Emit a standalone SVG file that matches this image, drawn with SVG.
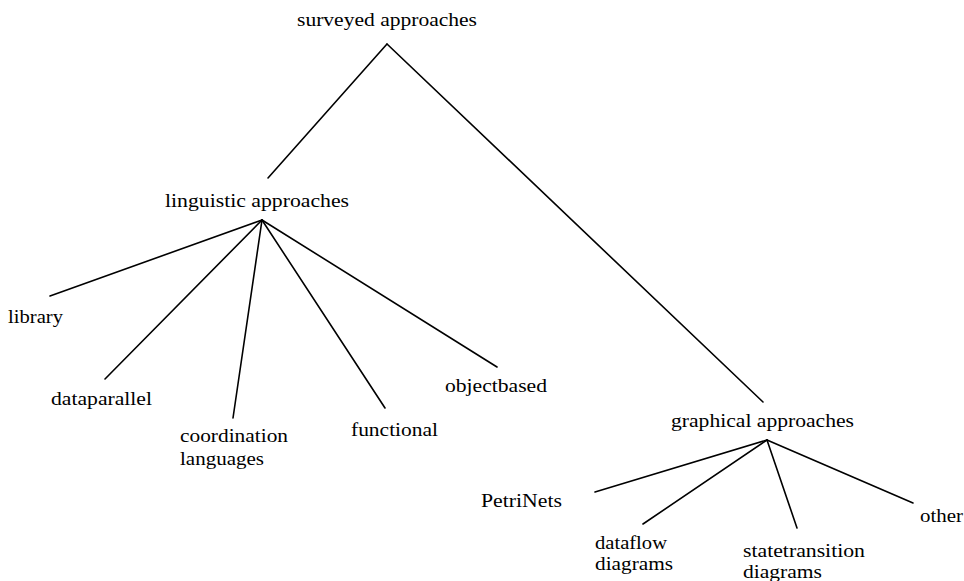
<svg xmlns="http://www.w3.org/2000/svg" width="964" height="581" viewBox="0 0 964 581">
<style>
text{font-family:"Liberation Serif","Times New Roman",serif;font-size:19.5px;fill:#000}
.c line{stroke:#000;stroke-width:1.6;stroke-linecap:round}
</style>
<rect width="964" height="581" fill="#fff"/>
<g class="c" id="connectors">
<line x1="387" y1="44" x2="268" y2="178"/>
<line x1="387" y1="44" x2="763" y2="402"/>
<line x1="262" y1="220" x2="50" y2="296"/>
<line x1="262" y1="220" x2="105" y2="379"/>
<line x1="262" y1="220" x2="233" y2="418"/>
<line x1="262" y1="220" x2="385" y2="408"/>
<line x1="262" y1="220" x2="497" y2="367"/>
<line x1="767" y1="440" x2="595" y2="492"/>
<line x1="767" y1="440" x2="643" y2="524"/>
<line x1="767" y1="440" x2="797" y2="528"/>
<line x1="767" y1="440" x2="913" y2="503"/>
</g>
<g id="surveyed"><text x="297" y="26" textLength="180" lengthAdjust="spacingAndGlyphs">surveyed approaches</text></g>
<g id="linguistic"><text x="165" y="207" textLength="184" lengthAdjust="spacingAndGlyphs">linguistic approaches</text></g>
<g id="library"><text x="8" y="323" textLength="55" lengthAdjust="spacingAndGlyphs">library</text></g>
<g id="dataparallel"><text x="51" y="405" textLength="101" lengthAdjust="spacingAndGlyphs">dataparallel</text></g>
<g id="coordination"><text x="180" y="442" textLength="108" lengthAdjust="spacingAndGlyphs">coordination</text><text x="180" y="465" textLength="84" lengthAdjust="spacingAndGlyphs">languages</text></g>
<g id="functional"><text x="351" y="436" textLength="87" lengthAdjust="spacingAndGlyphs">functional</text></g>
<g id="objectbased"><text x="445" y="392" textLength="102" lengthAdjust="spacingAndGlyphs">objectbased</text></g>
<g id="graphical"><text x="671" y="427" textLength="183" lengthAdjust="spacingAndGlyphs">graphical approaches</text></g>
<g id="petrinets"><text x="481" y="507" textLength="81" lengthAdjust="spacingAndGlyphs">PetriNets</text></g>
<g id="dataflow"><text x="595" y="549" textLength="72" lengthAdjust="spacingAndGlyphs">dataflow</text><text x="595" y="570" textLength="78" lengthAdjust="spacingAndGlyphs">diagrams</text></g>
<g id="statetransition"><text x="743" y="557" textLength="122" lengthAdjust="spacingAndGlyphs">statetransition</text><text x="743" y="578" textLength="79" lengthAdjust="spacingAndGlyphs">diagrams</text></g>
<g id="other"><text x="920" y="522" textLength="43" lengthAdjust="spacingAndGlyphs">other</text></g>
</svg>
